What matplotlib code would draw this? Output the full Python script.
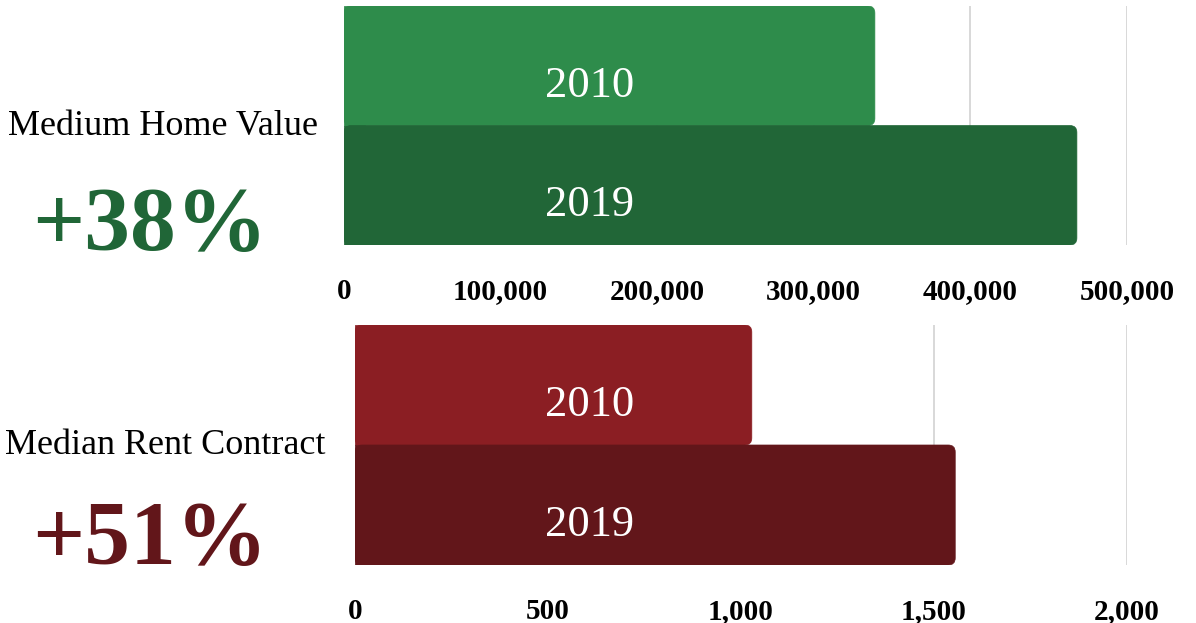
import matplotlib
matplotlib.use("Agg")
import matplotlib.pyplot as plt
from matplotlib.patches import FancyBboxPatch, Rectangle
from matplotlib.ticker import FuncFormatter
import matplotlib.transforms as mtransforms

# Data
years = ["2010", "2019"]
home_values = [339000, 468000]
rent_values = [1028, 1555]
home_ticks = [0, 100000, 200000, 300000, 400000, 500000]
rent_ticks = [0, 500, 1000, 1500, 2000]
home_title = "Medium Home Value"
rent_title = "Median Rent Contract"
home_change = "+38%"
rent_change = "+51%"

green_colors = ["#2e8c4b", "#216637"]
red_colors = ["#8b1e23", "#62161a"]

SERIF = ["Liberation Serif", "DejaVu Serif"]

fig = plt.figure(figsize=(11.96, 6.23), dpi=100)
fig.patch.set_facecolor("white")

ax_top = fig.add_axes([344 / 1196, 1 - 245 / 623, (1127 - 344) / 1196, 239 / 623])
ax_bot = fig.add_axes([355 / 1196, 1 - 565 / 623, (1127 - 355) / 1196, 240 / 623])


def rounded_bars(ax, values, colors, ticks, radius_px=7):
    ax.set_xlim(ticks[0], ticks[-1])
    ax.set_ylim(1.5, -0.5)
    bars = ax.barh(range(len(values)), values, height=1.0, color=colors, zorder=2)
    fig.canvas.draw()
    bbox = ax.get_window_extent()
    x_per_px = (ticks[-1] - ticks[0]) / bbox.width
    y_per_px = 2.0 / bbox.height
    rx = radius_px * x_per_px
    for bar, c in zip(bars, colors):
        bar.set_visible(False)
        x0, y0 = bar.get_x(), bar.get_y()
        w, h = bar.get_width(), bar.get_height()
        p = FancyBboxPatch((x0, y0), w, h,
                           boxstyle=f"round,pad=0,rounding_size={rx}",
                           mutation_aspect=y_per_px / x_per_px,
                           facecolor=c, edgecolor=c, linewidth=0.5, zorder=2)
        ax.add_patch(p)
        # square off the left end
        ax.add_patch(Rectangle((x0, y0), 3 * rx, h, facecolor=c,
                               edgecolor=c, linewidth=0.5, zorder=2))
    return bars


def style_axis(ax, ticks, fmt):
    ax.set_xticks(ticks)
    ax.xaxis.set_major_formatter(FuncFormatter(fmt))
    ax.set_yticks([])
    for s in ax.spines.values():
        s.set_visible(False)
    ax.grid(axis="x", color="#d2d2d2", linewidth=1.2, zorder=0)
    ax.set_axisbelow(True)
    ax.tick_params(axis="x", length=0, pad=24, labelsize=21)
    for lab in ax.get_xticklabels():
        lab.set_fontfamily(SERIF)
        lab.set_fontweight("bold")


def year_labels(ax, xfrac):
    trans = mtransforms.blended_transform_factory(ax.transAxes, ax.transData)
    for i, y in enumerate(years):
        ax.text(xfrac, i + 0.26, y, transform=trans, ha="center", va="baseline",
                color="white", fontsize=32, family=SERIF, zorder=3)


rounded_bars(ax_top, home_values, green_colors, home_ticks)
style_axis(ax_top, home_ticks, lambda v, p: f"{int(v):,}")
year_labels(ax_top, 0.314)

rounded_bars(ax_bot, rent_values, red_colors, rent_ticks)
style_axis(ax_bot, rent_ticks, lambda v, p: f"{int(v):,}")
year_labels(ax_bot, 0.304)

# Left-hand captions
fig.text(163 / 1196, 1 - 126 / 623, home_title, ha="center", va="center",
         fontsize=26, family=SERIF, color="black")
fig.text(150 / 1196, 1 - 228 / 623, home_change, ha="center", va="center",
         fontsize=66, family=SERIF, fontweight="bold", color="#206637")
fig.text(165 / 1196, 1 - 445 / 623, rent_title, ha="center", va="center",
         fontsize=26, family=SERIF, color="black")
fig.text(150 / 1196, 1 - 542 / 623, rent_change, ha="center", va="center",
         fontsize=66, family=SERIF, fontweight="bold", color="#62161a")

fig.savefig("out.png", dpi=100, facecolor="white")
